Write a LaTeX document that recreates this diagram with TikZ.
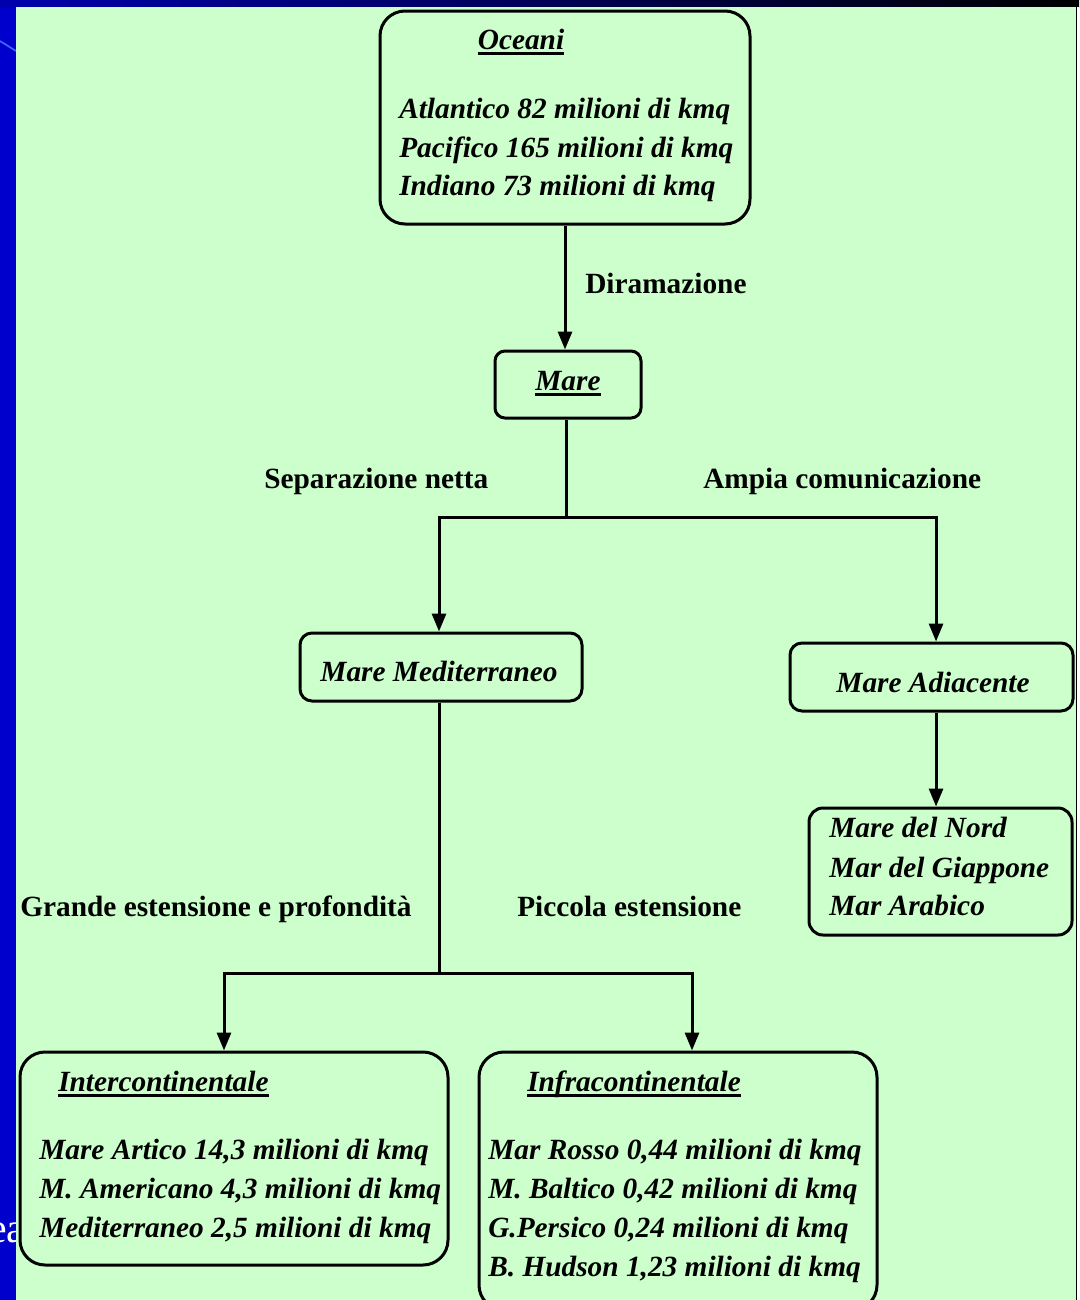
\documentclass[tikz,border=0pt]{standalone}
\usepackage{fontspec}
\setmainfont{Liberation Serif}
\usetikzlibrary{arrows.meta,fit}
\definecolor{bgblue}{HTML}{0000CC}
\definecolor{panel}{HTML}{CCFFCC}
\definecolor{streak}{HTML}{3F6CFF}
\newcommand{\ulthick}[1]{\setbox0=\hbox{#1}\rlap{\rule[-4.5pt]{\wd0}{2.25pt}}\box0}
\begin{document}
\begin{tikzpicture}[x=0.75pt,y=-0.75pt,
  box/.style={draw=black, line width=2.25pt, rounded corners=#1, inner sep=0pt},
  txt/.style={inner sep=0pt, anchor=base west, font=\fontsize{22}{26}\selectfont\bfseries\itshape},
  ctxt/.style={inner sep=0pt, anchor=base, font=\fontsize{22}{26}\selectfont\bfseries\itshape},
  lab/.style={inner sep=0pt, anchor=base west, font=\fontsize{22}{26}\selectfont\bfseries},
  conn/.style={line width=2.25pt, draw=black},
  arr/.style={conn, -{Triangle[length=13.5pt,width=10.5pt]}}]
\useasboundingbox (0,0) rectangle (1079,1300);
% background
\fill[bgblue] (0,0) rectangle (1079,1300);
\shade[left color=bgblue!85!black, right color=black] (0,0) rectangle (1079,7);
\draw[streak, line width=1.2pt] (0,41) -- (16,51);
\node[inner sep=0pt, anchor=base west, text=white, font=\fontsize{31.5}{36}\selectfont] (bgtext) at (-12,1242) {ea};
\fill[panel] (16,7) rectangle (1076,1300);
\fill[white] (1077,7) rectangle (1079,1300);
\draw[black, line width=1.2pt] (1076.5,7) -- (1076.5,1300);

% boxes
\node[box=18.75pt, fit={(380,11) (750,224)}] (oce) {};
\node[box=7.5pt, fit={(495,351) (641,418)}] (mare) {};
\node[box=9pt, fit={(300,633) (582,701)}] (med) {};
\node[box=9pt, fit={(790,643) (1073,711)}] (adi) {};
\node[box=10.5pt, fit={(809,808) (1072,935)}] (nord) {};
\node[box=18.75pt, fit={(20,1052) (448,1265)}] (inter) {};
\node[box=18.75pt, fit={(479,1052) (877,1310)}] (infra) {};

% texts
\node[ctxt] (toce) at (521,49) {\ulthick{Oceani}};
\node[txt] (o1) at (399,118) {Atlantico 82 milioni di kmq};
\node[txt] (o2) at (399,157) {Pacifico 165 milioni di kmq};
\node[txt] (o3) at (399,195) {Indiano 73 milioni di kmq};

\node[ctxt] (tmare) at (568,390) {\ulthick{Mare}};
\node[ctxt] (tmed) at (439,681) {Mare Mediterraneo};
\node[ctxt] (tadi) at (933,692) {Mare Adiacente};

\node[txt] (n1) at (829,837) {Mare del Nord};
\node[txt] (n2) at (829,877) {Mar del Giappone};
\node[txt] (n3) at (829,915) {Mar Arabico};

\node[txt] (tinter) at (58,1091) {\ulthick{Intercontinentale}};
\node[txt] (i1) at (39,1159) {Mare Artico 14,3 milioni di kmq};
\node[txt] (i2) at (39,1198) {M. Americano 4,3 milioni di kmq};
\node[txt] (i3) at (39,1237) {Mediterraneo 2,5 milioni di kmq};

\node[txt] (tinfra) at (527,1091) {\ulthick{Infracontinentale}};
\node[txt] (f1) at (488,1159) {Mar Rosso 0,44 milioni di kmq};
\node[txt] (f2) at (488,1198) {M. Baltico 0,42 milioni di kmq};
\node[txt] (f3) at (488,1237) {G.Persico 0,24 milioni di kmq};
\node[txt] (f4) at (488,1276) {B. Hudson 1,23 milioni di kmq};

% connector labels
\node[lab] (ldir) at (585,293) {Diramazione};
\node[lab] (lsep) at (264,488) {Separazione netta};
\node[lab] (lamp) at (703,488) {Ampia comunicazione};
\node[lab] (lgra) at (20,916) {Grande estensione e profondità};
\node[lab] (lpic) at (517,916) {Piccola estensione};

% connectors
\coordinate (j1) at (566,517);
\coordinate (j2) at (439,973);
\draw[arr] (oce.south) -- (oce.south |- mare.north);
\draw[conn] (mare.south -| j1) -- (j1);
\draw[arr] (j1) -| ([xshift=-1.5pt]med.north);
\draw[arr] (j1) -| ([xshift=3.4pt]adi.north);
\draw[arr] ([xshift=3.4pt]adi.south) -- ([xshift=3.4pt]adi.south |- nord.north);
\draw[conn] (med.south -| j2) -- (j2);
\draw[arr] (j2) -| ([xshift=-7.5pt]inter.north);
\draw[arr] (j2) -| ([xshift=10.5pt]infra.north);
\end{tikzpicture}
\end{document}
